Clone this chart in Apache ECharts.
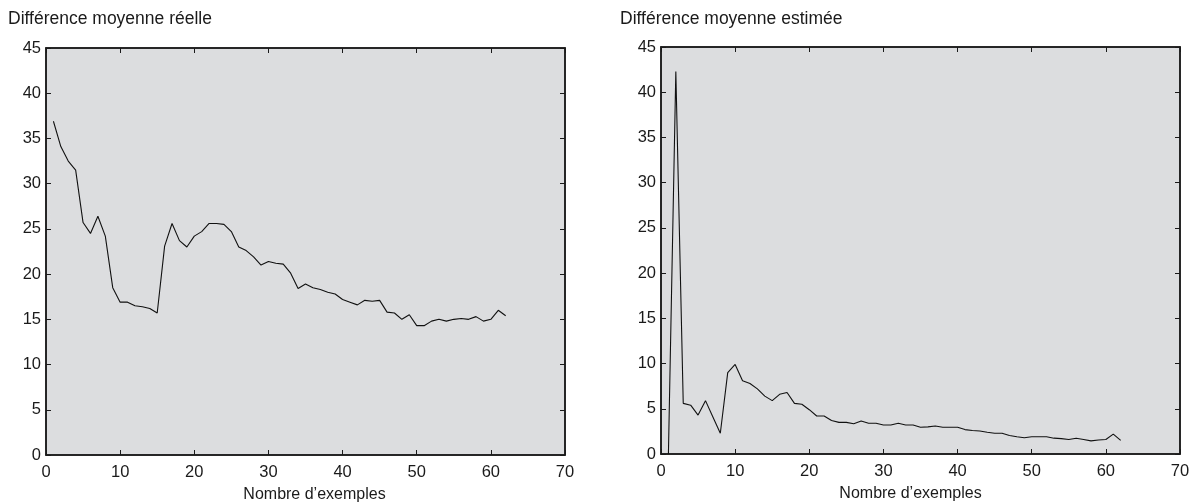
<!DOCTYPE html>
<html>
<head>
<meta charset="utf-8">
<script src="https://cdn.jsdelivr.net/npm/echarts@6/dist/echarts.min.js"></script>
<style>
html,body{margin:0;padding:0;background:#fff;}
#c{width:1196px;height:504px;}
</style>
</head>
<body>
<div id="c"></div>
<script>
const xValues = [1,2,3,4,5,6,7,8,9,10,11,12,13,14,15,16,17,18,19,20,21,22,23,24,25,26,27,28,29,30,31,32,33,34,35,36,37,38,39,40,41,42,43,44,45,46,47,48,49,50,51,52,53,54,55,56,57,58,59,60,61,62];
const reelle = [36.9,34.1,32.5,31.5,25.7,24.5,26.4,24.2,18.5,16.9,
  16.9,16.5,16.4,16.2,15.7,23.1,25.6,23.7,23.0,24.2,
  24.7,25.6,25.6,25.5,24.7,23.0,22.6,21.9,21.0,21.4,
  21.2,21.1,20.1,18.4,18.9,18.5,18.3,18.0,17.8,17.2,
  16.9,16.6,17.1,17.0,17.1,15.8,15.7,15.0,15.5,14.3,
  14.3,14.8,15.0,14.8,15.0,15.1,15.0,15.3,14.8,15.0,
  16.0,15.4];
const estimee = [0,42.3,5.6,5.4,4.3,5.9,4.1,2.3,9.0,9.9,
  8.1,7.8,7.2,6.4,5.9,6.6,6.8,5.6,5.5,4.9,
  4.2,4.2,3.7,3.5,3.5,3.35,3.65,3.4,3.4,3.2,
  3.2,3.4,3.2,3.2,2.95,3.0,3.1,2.95,2.95,2.95,
  2.7,2.6,2.55,2.4,2.3,2.3,2.05,1.9,1.8,1.9,
  1.9,1.9,1.75,1.7,1.6,1.75,1.6,1.45,1.55,1.6,
  2.2,1.5];
const titles = ['Différence moyenne réelle', 'Différence moyenne estimée'];
const xName = 'Nombre d\u2019exemples';
const xMin = 0, xMax = 70, xStep = 10;
const yMin = 0, yMax = 45, yStep = 5;

const FONT = '"Liberation Sans", Arial, Helvetica, sans-serif';
const TXT = '#1a1a1a';
const grids = [
  {left: 46, top: 48, width: 519, height: 407},
  {left: 661, top: 47, width: 519, height: 407}
];
const namePad = [[0, 0, 0, 18], [0, 20, 0, 0]];
const chart = echarts.init(document.getElementById('c'), null, {renderer: 'canvas'});

const xAxes = [], yAxes = [], series = [], gridOpts = [];
const datasets = [reelle, estimee];
const AX = {show: true, onZero: false, lineStyle: {color: '#1a1a1a', width: 1.5}};
grids.forEach((g, i) => {
  gridOpts.push(Object.assign({show: true, backgroundColor: '#dcdddf', borderColor: '#1a1a1a', borderWidth: 1.5,
    containLabel: false, outerBoundsMode: 'none'}, g));
  const tick = {show: true, inside: true, length: 5, lineStyle: {color: '#1a1a1a', width: 1}};
  xAxes.push({type: 'value', gridIndex: i, min: xMin, max: xMax, interval: xStep, position: 'bottom',
    axisLine: AX, axisTick: tick, splitLine: {show: false},
    axisLabel: {color: TXT, fontFamily: FONT, fontSize: 16.5, margin: 9},
    name: xName, nameLocation: 'middle', nameGap: 32,
    nameTextStyle: {color: TXT, fontFamily: FONT, fontSize: 16, padding: namePad[i]}});
  xAxes.push({type: 'value', gridIndex: i, min: xMin, max: xMax, interval: xStep, position: 'top',
    axisLine: AX, axisTick: tick, splitLine: {show: false}, axisLabel: {show: false}});
  yAxes.push({type: 'value', gridIndex: i, min: yMin, max: yMax, interval: yStep, position: 'left',
    axisLine: AX, axisTick: tick, splitLine: {show: false},
    axisLabel: {color: TXT, fontFamily: FONT, fontSize: 16.5, margin: 5}});
  yAxes.push({type: 'value', gridIndex: i, min: yMin, max: yMax, interval: yStep, position: 'right',
    axisLine: AX, axisTick: tick, splitLine: {show: false}, axisLabel: {show: false}});
  series.push({type: 'line', xAxisIndex: i * 2, yAxisIndex: i * 2, showSymbol: false, symbol: 'none',
    silent: true, animation: false, clip: true,
    lineStyle: {color: '#111', width: 1.1},
    data: xValues.map((x, k) => [x, datasets[i][k]])});
});

chart.setOption({
  animation: false,
  backgroundColor: '#ffffff',
  title: [
    {text: titles[0], left: 8, top: 10, textStyle: {color: TXT, fontFamily: FONT, fontSize: 17.5, fontWeight: 'normal'}, padding: 0},
    {text: titles[1], left: 620, top: 10, textStyle: {color: TXT, fontFamily: FONT, fontSize: 17.5, fontWeight: 'normal'}, padding: 0}
  ],
  grid: gridOpts,
  xAxis: xAxes,
  yAxis: yAxes,
  series: series
});
</script>
</body>
</html>
